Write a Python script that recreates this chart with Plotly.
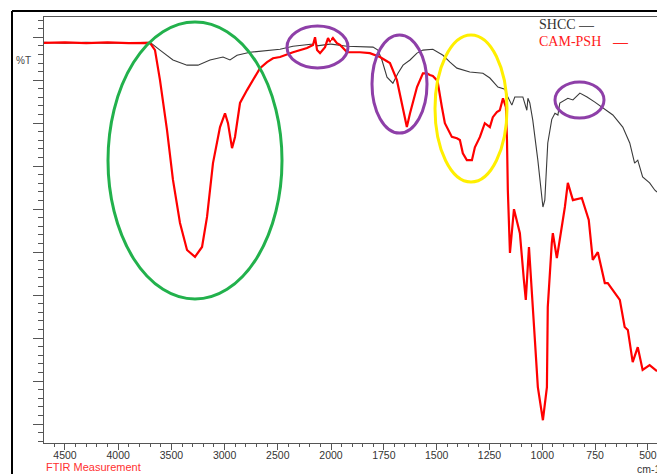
import numpy as np
import plotly.graph_objects as go

# ---------------- data (wavenumber cm-1, %T arbitrary scale) ----------------
wn_cam = [4697, 4500, 4300, 4100, 3900, 3795, 3701, 3654, 3607, 3541, 3485, 3419, 3353,
          3278, 3212, 3165, 3109, 3043, 2996, 2968, 2930, 2902, 2855, 2789, 2733, 2667,
          2601, 2545, 2479, 2357, 2225, 2169, 2150, 2131, 2103, 2056, 2028, 2009, 2000,
          1991, 1972, 1957, 1924, 1863, 1816, 1768, 1745, 1721, 1688, 1659, 1641, 1626,
          1593, 1565, 1546, 1532, 1518, 1499, 1494, 1475, 1461, 1428, 1404, 1390, 1376,
          1357, 1333, 1319, 1295, 1272, 1248, 1234, 1215, 1201, 1186, 1172, 1167, 1163,
          1153, 1134, 1106, 1087, 1078, 1063, 1049, 1035, 1021, 997, 978, 974, 955, 950,
          931, 917, 907, 893, 879, 855, 813, 780, 761, 737, 704, 690, 633, 610, 595, 572,
          548, 525, 492, 467, 457]
t_cam = [88.7, 88.8, 88.6, 88.8, 88.6, 88.7, 88.7, 87.0, 80.0, 68.4, 56.8, 46.8, 40.5,
         38.9, 41.2, 48.2, 60.7, 69.1, 72.3, 70.0, 64.2, 66.8, 74.7, 77.7, 80.0, 82.8,
         84.2, 85.1, 85.4, 86.5, 87.5, 88.2, 90.0, 87.0, 86.3, 87.7, 89.8, 88.9, 89.3,
         89.8, 88.6, 88.2, 86.5, 86.5, 86.3, 85.4, 84.7, 84.0, 80.0, 73.7, 69.1, 72.3,
         78.4, 81.6, 81.6, 81.2, 81.0, 80.0, 79.3, 73.7, 70.0, 66.8, 66.5, 66.1, 63.0,
         61.4, 61.4, 64.4, 66.8, 70.0, 69.1, 71.4, 72.6, 73.0, 75.8, 73.7, 66.1, 54.4,
         39.8, 50.0, 44.4, 33.5, 28.9, 41.2, 28.9, 19.6, 8.6, 0.9, 8.6, 27.2, 42.1, 44.4,
         38.6, 42.8, 45.8, 50.5, 56.1, 52.1, 52.6, 47.5, 38.2, 40.0, 32.8, 32.8, 28.9, 22.6,
         21.9, 14.4, 17.9, 12.6, 13.7, 12.6, 12.3]

wn_shcc = [4697, 4500, 4300, 4100, 3900, 3795, 3701, 3607, 3485, 3353, 3250, 3137, 3015,
           2949, 2883, 2761, 2545, 2479, 2357, 2169, 2150, 2131, 2009, 2000, 1924, 1801,
           1778, 1759, 1735, 1707, 1683, 1659, 1626, 1593, 1565, 1518, 1470, 1437, 1404,
           1343, 1281, 1248, 1210, 1177, 1163, 1144, 1130, 1106, 1092, 1073, 1068, 1059,
           1045, 1021, 1002, 997, 988, 974, 955, 940, 926, 917, 879, 855, 822, 788, 751,
           713, 666, 619, 586, 563, 548, 525, 492, 467, 457]
t_shcc = [88.8, 88.6, 88.8, 88.6, 88.7, 88.8, 88.8, 87.0, 84.7, 83.5, 83.5, 84.7, 85.4,
          84.7, 85.8, 86.5, 87.0, 87.2, 87.9, 88.4, 89.0, 88.0, 88.4, 88.4, 87.9, 87.7,
          87.0, 84.7, 80.7, 79.3, 81.6, 83.5, 84.7, 86.3, 87.0, 87.2, 85.8, 84.2, 82.8,
          81.9, 81.6, 80.5, 78.4, 77.9, 76.1, 74.2, 76.1, 76.1, 76.1, 73.0, 75.8, 74.7,
          70.7, 61.4, 53.7, 50.5, 52.1, 65.4, 70.9, 72.3, 71.9, 74.7, 75.8, 75.4, 77.0,
          76.1, 74.9, 73.5, 71.9, 69.1, 65.4, 60.7, 61.4, 57.5, 56.1, 54.4, 54.0]

ticks_high = [4500, 4000, 3500, 3000, 2500]
ticks_low = [2000, 1750, 1500, 1250, 1000, 750, 500]

# ---------------- figure ----------------
BREAK = 2000
wn_cam_a, t_cam_a = np.array(wn_cam), np.array(t_cam)
wn_shcc_a, t_shcc_a = np.array(wn_shcc), np.array(t_shcc)

fig = go.Figure()
for wn, t, name, col, w in [(wn_shcc_a, t_shcc_a, "SHCC", "#3a3a3a", 1.1),
                            (wn_cam_a, t_cam_a, "CAM-PSH", "#ff0000", 2.2)]:
    hi = wn >= BREAK
    lo = wn <= BREAK
    fig.add_trace(go.Scatter(x=wn[hi], y=t[hi], mode="lines", name=name,
                             line=dict(color=col, width=w), xaxis="x", yaxis="y",
                             showlegend=False))
    fig.add_trace(go.Scatter(x=wn[lo], y=t[lo], mode="lines", name=name,
                             line=dict(color=col, width=w), xaxis="x2", yaxis="y",
                             showlegend=False))

W, H = 657, 474
L, R, T, B = 44, 0, 17, 31
pw, ph = W - L - R, H - T - B
split = (331 - L) / pw


def px(x):
    return (x - L) / pw


def py(y):
    return (H - B - y) / ph


axis_col = "#555555"
tickfont = dict(family="Liberation Sans, Arial, sans-serif", size=10.5, color="#333333")
common_x = dict(showline=True, linecolor=axis_col, linewidth=1, mirror=True,
                ticks="outside", ticklen=6, tickcolor=axis_col, showgrid=False,
                zeroline=False, tickfont=tickfont, anchor="y", ticklabelstandoff=-4)

fig.update_layout(
    width=W, height=H,
    margin=dict(l=L, r=R, t=T, b=B, pad=0),
    paper_bgcolor="white", plot_bgcolor="white",
    showlegend=False,
    xaxis=dict(domain=[0, split], range=[4697, BREAK], tickmode="array",
               tickvals=ticks_high,
               minor=dict(ticks="outside", ticklen=3, tickcolor=axis_col,
                          tick0=0, dtick=100), **common_x),
    xaxis2=dict(domain=[split, 1], range=[BREAK, 457], tickmode="array",
                tickvals=ticks_low,
                minor=dict(ticks="outside", ticklen=3, tickcolor=axis_col,
                           tick0=0, dtick=50), **common_x),
    yaxis=dict(range=[-4.4, 94.7], showticklabels=False, showline=True,
               linecolor=axis_col, ticks="outside", ticklen=10, tickcolor=axis_col,
               tickmode="linear", tick0=0, dtick=10, showgrid=False, zeroline=False,
               minor=dict(ticks="outside", ticklen=5, tickcolor=axis_col, dtick=2)),
)

# outer frame (left and top)
fig.add_shape(type="line", xref="paper", yref="paper", x0=px(12), x1=px(12),
              y0=py(11), y1=py(480), line=dict(color="black", width=2))
fig.add_shape(type="line", xref="paper", yref="paper", x0=px(12), x1=px(700),
              y0=py(11), y1=py(11), line=dict(color="black", width=2))

# highlight ellipses
ellipses = [((108, 282, 22, 299), "#22b14c"),
            ((287, 348, 26, 68), "#8e3fa8"),
            ((372, 427, 35, 133), "#8e3fa8"),
            ((435, 507, 35, 182), "#ffef00"),
            ((555, 604, 82, 118), "#8e3fa8")]
for (x0, x1, y0, y1), c in ellipses:
    fig.add_shape(type="circle", xref="paper", yref="paper",
                  x0=px(x0), x1=px(x1), y0=py(y1), y1=py(y0),
                  line=dict(color=c, width=3))

serif = "Liberation Serif, Times New Roman, serif"
sans = "Liberation Sans, Arial, sans-serif"
ann = [
    dict(text="SHCC", x=px(537), y=py(24), xanchor="left", font=dict(family=serif, size=14, color="#333333")),
    dict(text="—", x=px(577), y=py(24), xanchor="left", font=dict(family=sans, size=15, color="#555555")),
    dict(text="CAM-PSH", x=px(537), y=py(41), xanchor="left", font=dict(family=serif, size=14, color="#ff2020")),
    dict(text="—", x=px(611), y=py(41), xanchor="left", font=dict(family=sans, size=15, color="#ff2020")),
    dict(text="%T", x=px(14), y=py(60), xanchor="left", font=dict(family=sans, size=10, color="#444444")),
    dict(text="FTIR Measurement", x=px(44), y=py(467), xanchor="left", font=dict(family=sans, size=11, color="#ff3030")),
    dict(text="cm-1", x=px(635), y=py(469), xanchor="left", font=dict(family=sans, size=10.5, color="#333333")),
]
for a in ann:
    fig.add_annotation(xref="paper", yref="paper", yanchor="middle", showarrow=False, **a)

fig.write_html("out.html", config={"displayModeBar": False},
               post_script="document.body.style.margin='0';document.body.style.overflow='hidden';")
